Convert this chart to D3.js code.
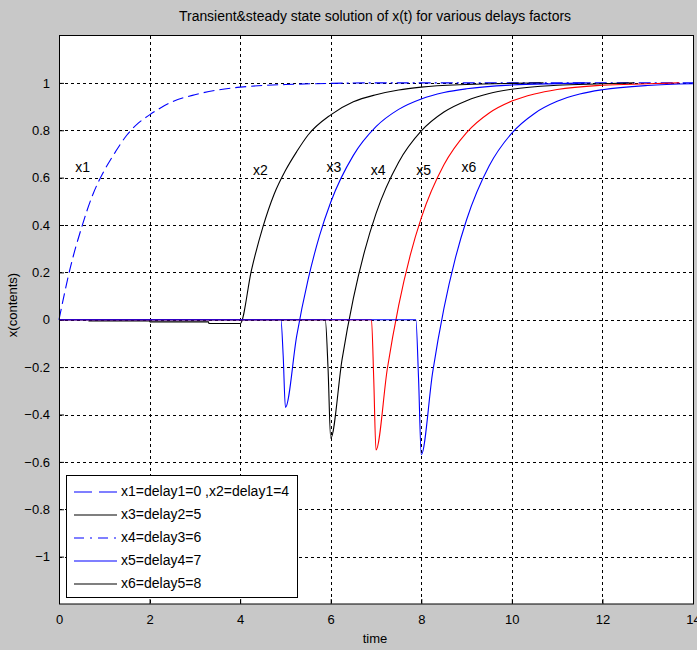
<!DOCTYPE html>
<html>
<head>
<meta charset="utf-8">
<script src="https://cdn.jsdelivr.net/npm/d3@7"></script>
<style>
  html, body { margin: 0; padding: 0; background: #c8c8c8; }
  svg { display: block; }
  text { font-family: "Liberation Sans", Arial, sans-serif; fill: #000; }
</style>
</head>
<body>
<svg id="chart" width="697" height="650"></svg>
<script>
// ---------------- data ----------------
const titleText = "Transient&steady state solution of x(t) for various delays factors";
const xLabel = "time";
const yLabel = "x(contents)";
const xTicks = [0, 2, 4, 6, 8, 10, 12, 14];
const yTicks = [-1, -0.8, -0.6, -0.4, -0.2, 0, 0.2, 0.4, 0.6, 0.8, 1];

const x1T = [0, 0.25, 0.5, 0.75, 1, 1.25, 1.5, 1.75, 2, 2.5, 3, 3.5, 4, 4.5, 5, 6, 7, 8, 9, 10, 11, 12, 13, 14];
const x1V = [0, 0.22, 0.39, 0.53, 0.63, 0.71, 0.78, 0.83, 0.865, 0.92, 0.95, 0.97, 0.982, 0.989, 0.993, 0.998, 1, 1, 1, 1, 1, 1, 1, 1];

const x2T = [0.65, 2, 2.01, 3.3, 3.31, 4, 4.25, 4.5, 4.75, 5, 5.25, 5.5, 6, 6.5, 7, 7.5, 8, 9, 10, 10.7];
const x2V = [-0.005, -0.005, -0.009, -0.009, -0.016, -0.016, 0.21, 0.39, 0.53, 0.63, 0.71, 0.78, 0.865, 0.92, 0.95, 0.97, 0.982, 0.993, 0.998, 1.0];

const x3T = [0, 4.9, 4.95, 5, 5.25, 5.5, 5.75, 6, 6.5, 7, 7.5, 8, 8.5, 9, 10, 11, 11.7];
const x3V = [0, 0, -0.15, -0.37, -0.067, 0.169, 0.353, 0.496, 0.694, 0.815, 0.888, 0.932, 0.959, 0.975, 0.991, 0.997, 1.0];

const x4T = [0, 5.88, 5.94, 6, 6.25, 6.5, 6.75, 7, 7.5, 8, 8.5, 9, 9.5, 10, 11, 12, 12.7];
const x4V = [0, 0, -0.2, -0.5, -0.168, 0.09, 0.291, 0.448, 0.665, 0.797, 0.877, 0.925, 0.955, 0.973, 0.99, 0.996, 1.0];

const x5T = [0, 6.9, 6.95, 7, 7.25, 7.5, 7.75, 8, 8.5, 9, 9.5, 10, 10.5, 11, 12, 13, 13.7];
const x5V = [0, 0, -0.25, -0.55, -0.207, 0.06, 0.268, 0.43, 0.654, 0.79, 0.873, 0.923, 0.953, 0.972, 0.99, 0.996, 1.0];

const x6T = [0, 7.88, 7.94, 8, 8.25, 8.5, 8.75, 9, 9.5, 10, 10.5, 11, 11.5, 12, 13, 14];
const x6V = [0, 0, -0.25, -0.57, -0.223, 0.048, 0.258, 0.422, 0.65, 0.788, 0.871, 0.922, 0.953, 0.971, 0.989, 0.996];

const curveLabels = ["x1", "x2", "x3", "x4", "x5", "x6"];
const curveLabelT = [0.52, 4.45, 6.07, 7.05, 8.05, 9.05];
const curveLabelY = [0.64, 0.625, 0.64, 0.625, 0.625, 0.64];

const legendLabels = ["x1=delay1=0 ,x2=delay1=4", "x3=delay2=5", "x4=delay3=6", "x5=delay4=7", "x6=delay5=8"];

// ---------------- layout ----------------
const W = 697, H = 650;
const plot = { left: 59, right: 693, top: 35.5, bottom: 604 };
const svg = d3.select("#chart");

svg.append("rect").attr("x", 0).attr("y", 0).attr("width", W).attr("height", H).attr("fill", "#c8c8c8");

const x = d3.scaleLinear().domain([0, 14]).range([plot.left, plot.right]);
const y = d3.scaleLinear().domain([-1.2, 1.2]).range([plot.bottom, plot.top]);

// plot background
svg.append("rect")
  .attr("x", plot.left).attr("y", plot.top)
  .attr("width", plot.right - plot.left).attr("height", plot.bottom - plot.top)
  .attr("fill", "#fff");

// grid
const grid = svg.append("g").attr("stroke", "#000").attr("stroke-width", 1).attr("stroke-dasharray", "3,3").attr("shape-rendering", "crispEdges");
xTicks.slice(1, -1).forEach(t => {
  grid.append("line").attr("x1", Math.round(x(t)) + 0.5).attr("x2", Math.round(x(t)) + 0.5)
    .attr("y1", plot.top).attr("y2", plot.bottom);
});
yTicks.forEach(t => {
  grid.append("line").attr("y1", Math.round(y(t)) + 0.5).attr("y2", Math.round(y(t)) + 0.5)
    .attr("x1", plot.left).attr("x2", plot.right);
});

// axes
const xAxis = d3.axisBottom(x).tickValues(xTicks).tickSize(-5).tickPadding(11).tickFormat(d3.format("d"));
const yAxis = d3.axisLeft(y).tickValues(yTicks).tickSize(-5).tickPadding(9).tickFormat(d => d === 0 ? "0" : d3.format("")(+d.toFixed(1)));

const gx = svg.append("g").attr("transform", `translate(0,${plot.bottom})`).call(xAxis);
const gy = svg.append("g").attr("transform", `translate(${plot.left},0)`).call(yAxis);
[gx, gy].forEach(g => {
  g.select(".domain").remove();
  g.selectAll("text").style("font-size", "13px").style("font-family", "'Liberation Sans', Arial, sans-serif").attr("fill", "#000");
  g.selectAll("line").attr("stroke", "#000");
});

// curves
const line = d3.line().x(d => x(d[0])).y(d => y(d[1])).curve(d3.curveMonotoneX);
const zipS = (T, V) => T.map((t, i) => [t, V[i]]);
const plotG = svg.append("g");

function drawSeries(data, color, dash) {
  const p = plotG.append("path").datum(data).attr("d", line)
    .attr("fill", "none").attr("stroke", color).attr("stroke-width", 1.1).attr("stroke-linejoin", "round");
  if (dash) p.attr("stroke-dasharray", dash);
}

const x1Data = zipS(x1T, x1V);
drawSeries(x1Data.filter(d => d[0] <= 6), "#0000ff", "11,5");
drawSeries(x1Data.filter(d => d[0] >= 6), "#0000ff", "12,4,2,4");
drawSeries(zipS(x2T, x2V), "#000000");
drawSeries(zipS(x3T, x3V), "#0000ff");
drawSeries(zipS(x4T, x4V), "#000000");
drawSeries(zipS(x5T, x5V), "#ff0000");
drawSeries(zipS(x6T, x6V), "#0000ff");

// curve labels
curveLabels.forEach((lab, i) => {
  svg.append("text").attr("x", x(curveLabelT[i])).attr("y", y(curveLabelY[i]))
    .attr("text-anchor", "middle").attr("dominant-baseline", "middle")
    .style("font-size", "14px").attr("fill", "#3a3020").text(lab);
});

// frame
svg.append("rect")
  .attr("x", plot.left + 0.5).attr("y", plot.top).attr("width", plot.right - plot.left).attr("height", plot.bottom - plot.top)
  .attr("fill", "none").attr("stroke", "#000").attr("stroke-width", 1);

// legend
const leg = { x: 66, y: 475, w: 231, h: 122 };
const lg = svg.append("g");
lg.append("rect").attr("x", leg.x + 0.5).attr("y", leg.y + 0.5).attr("width", leg.w).attr("height", leg.h)
  .attr("fill", "#fff").attr("stroke", "#000");
const legColors = ["#0000ff", "#000000", "#0000ff", "#0000ff", "#000000"];
const legDash = ["18,7", null, "10,6,2,6", null, null];
legendLabels.forEach((lab, i) => {
  const yy = leg.y + 17 + i * 23;
  const l = lg.append("line").attr("x1", leg.x + 8).attr("x2", leg.x + 51).attr("y1", yy).attr("y2", yy)
    .attr("stroke", legColors[i]).attr("stroke-width", 1.1);
  if (legDash[i]) l.attr("stroke-dasharray", legDash[i]);
  lg.append("text").attr("x", leg.x + 55).attr("y", yy).attr("dominant-baseline", "middle")
    .style("font-size", "14px").text(lab);
});

// title and axis labels
svg.append("text").attr("x", 375).attr("y", 17).attr("text-anchor", "middle").attr("dominant-baseline", "middle")
  .style("font-size", "14px").attr("textLength", 392).attr("lengthAdjust", "spacingAndGlyphs").text(titleText);
svg.append("text").attr("x", 375).attr("y", 640).attr("text-anchor", "middle").attr("dominant-baseline", "middle")
  .style("font-size", "13px").text(xLabel);
svg.append("text").attr("transform", "translate(14,305) rotate(-90)").attr("text-anchor", "middle").attr("dominant-baseline", "middle")
  .style("font-size", "13px").text(yLabel);
</script>
</body>
</html>
